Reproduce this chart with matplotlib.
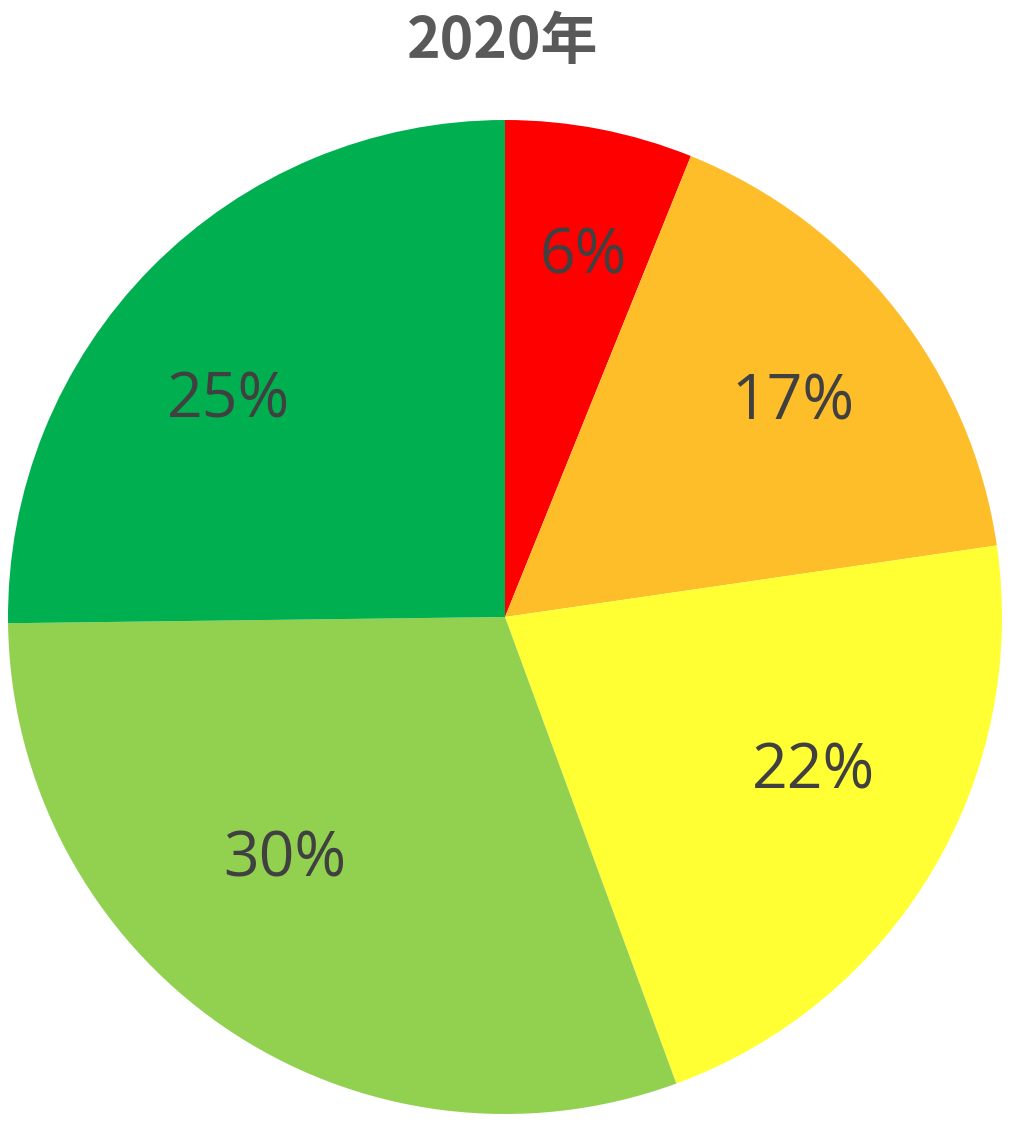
import matplotlib
matplotlib.use("Agg")
import matplotlib.pyplot as plt

# data (percent)
categories = ["A", "B", "C", "D", "E"]
values = [6.1, 16.6, 21.7, 30.4, 25.2]
colors = ["#FF0000", "#FDBE2A", "#FFFF33", "#92D050", "#00B050"]
title = "2020年"
# label placement as Excel put them (pie radius = 1)
label_pos = [(0.157, 0.724), (0.579, 0.431), (0.620, -0.312), (-0.443, -0.489), (-0.557, 0.435)]

fig = plt.figure(figsize=(10.14, 11.26), dpi=100)
ax = fig.add_axes([8 / 1014, 12 / 1126, 994 / 1014, 994 / 1126])

wedges, texts, autotexts = ax.pie(
    values,
    colors=colors,
    startangle=90,
    counterclock=False,
    autopct="%.0f%%",
    pctdistance=0.71,
    radius=1.0,
    wedgeprops={"linewidth": 0},
    textprops={"fontsize": 45, "color": "#404040", "family": ["Open Sans", "DejaVu Sans"]},
)
for t, pos in zip(autotexts, label_pos):
    t.set_position(pos)

ax.set_xlim(-1, 1)
ax.set_ylim(-1, 1)
ax.set_aspect("equal")
ax.axis("off")

fig.text(503 / 1014, 1 - 42 / 1126, title, ha="center", va="center",
         fontsize=41, fontweight="bold", color="#595959",
         family=["Noto Sans CJK SC", "DejaVu Sans"])

fig.savefig("out.png", dpi=100, facecolor="white")
